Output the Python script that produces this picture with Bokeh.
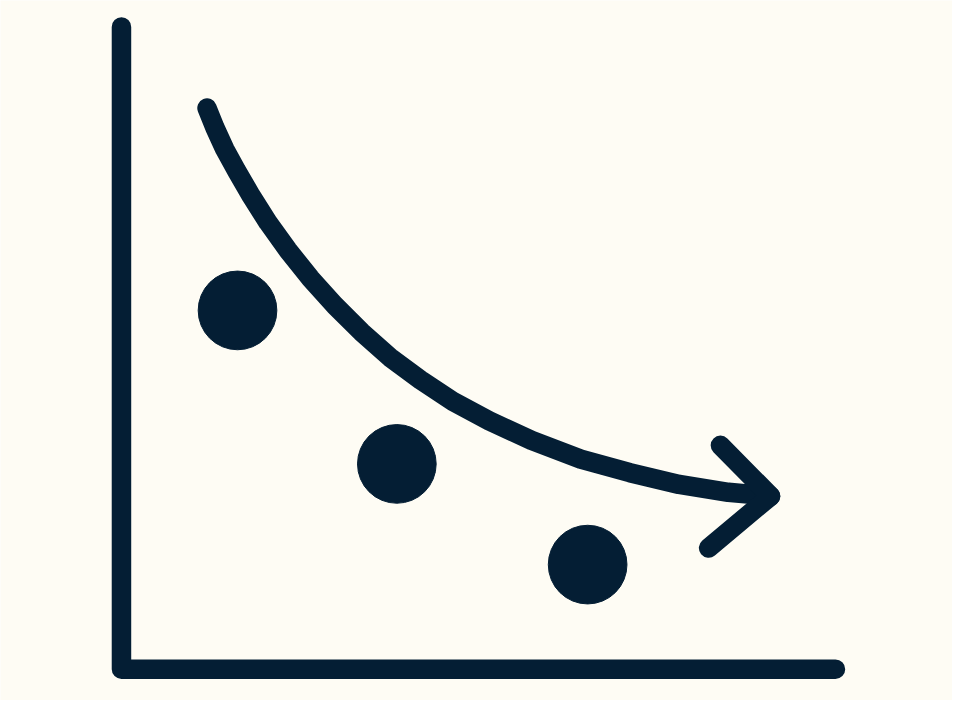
from bokeh.plotting import figure
from bokeh.models import Range1d
from bokeh.embed import file_html
from bokeh.resources import INLINE

# chart units: origin at the axis corner, 1 unit = 100 px of the source image
axis_x = [0.0, 0.0, 7.26]
axis_y = [6.57, 0.0, 0.0]

# observed points
dot_x = [1.18, 2.80, 4.74]
dot_y = [3.67, 2.10, 1.07]
dot_r = [0.40, 0.40, 0.40]

# decreasing trend curve
trend_x = [0.87, 0.95, 1.05, 1.17, 1.32, 1.49, 1.69, 1.92, 2.17, 2.44,
           2.73, 3.04, 3.37, 3.74, 4.17, 4.67, 5.17, 5.67, 6.17, 6.60]
trend_y = [5.74, 5.54, 5.32, 5.10, 4.84, 4.57, 4.29, 4.00, 3.72, 3.45,
           3.19, 2.96, 2.74, 2.54, 2.34, 2.15, 2.01, 1.89, 1.81, 1.77]

# arrow head (upper arm, tip, lower arm)
head_x = [6.09, 6.60, 5.97]
head_y = [2.29, 1.77, 1.24]

INK = "#041e34"
PAPER = "#fefcf4"

p = figure(
    width=952,
    height=700,
    x_range=Range1d(-1.23, 8.45),
    y_range=Range1d(-0.32, 6.84),
    output_backend="svg",
    toolbar_location=None,
    min_border=0,
)
p.axis.visible = False
p.grid.visible = False
p.outline_line_color = None
p.background_fill_color = PAPER
p.border_fill_color = PAPER

stroke = dict(line_width=19.5, color=INK, line_cap="round", line_join="round")
p.line(axis_x, axis_y, **stroke)
p.line(trend_x, trend_y, **stroke)
p.line(head_x, head_y, **stroke)
p.circle(x=dot_x, y=dot_y, radius=dot_r, color=INK)

open("out.html", "w").write(file_html(p, INLINE))
